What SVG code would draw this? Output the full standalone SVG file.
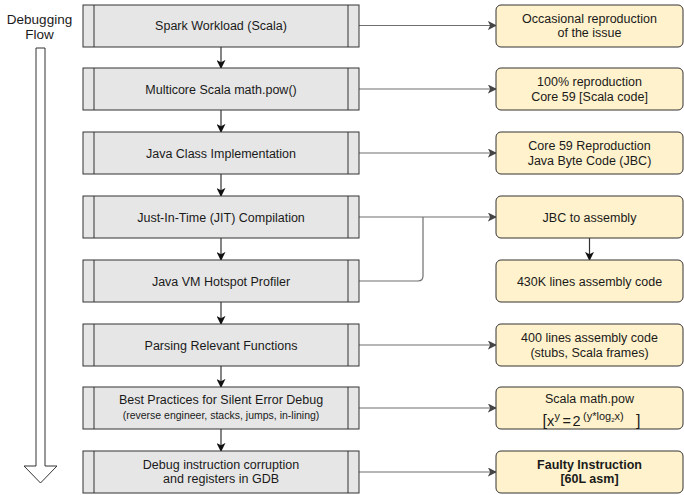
<svg xmlns="http://www.w3.org/2000/svg" width="684" height="495" viewBox="0 0 684 495">
<defs>
<style>
text{font-family:"Liberation Sans",Arial,sans-serif;font-size:12.5px;fill:#1a1a1a}
.t{text-anchor:middle}
.small{font-size:10.5px}
.lg{font-size:13.5px}
.b{font-weight:bold}
.lb{fill:#e6e6e6;stroke:#333;stroke-width:1}
.ln{stroke:#333;stroke-width:1;fill:none}
.rb{fill:#fff2cc;stroke:#333;stroke-width:1}
.h{stroke:#6e6e6e;stroke-width:1.2;fill:none}
.v{stroke:#333;stroke-width:1.2;fill:none}
</style>
<marker id="ag" viewBox="0 0 10 10" refX="9" refY="5" markerWidth="9" markerHeight="9" markerUnits="userSpaceOnUse" orient="auto"><path d="M0,0 L10,5 L0,10 L2.5,5 Z" fill="#444"/></marker>
<marker id="ab" viewBox="0 0 10 10" refX="9" refY="5" markerWidth="9" markerHeight="9" markerUnits="userSpaceOnUse" orient="auto"><path d="M0,0 L10,5 L0,10 L2.5,5 Z" fill="#111"/></marker>
</defs>

<g id="flow">
<text class="t lg" x="39.5" y="23.5">Debugging</text>
<text class="t lg" x="39.5" y="39">Flow</text>
<polygon points="36,48 45,48 45,466 57,466 40.5,483 24,466 36,466" fill="#fff" stroke="#333" stroke-width="1"/>
</g>

<g id="connectors">
<path class="h" d="M359,25.5 H496" marker-end="url(#ag)"/>
<path class="h" d="M359,89 H496" marker-end="url(#ag)"/>
<path class="h" d="M359,153 H496" marker-end="url(#ag)"/>
<path class="h" d="M359,217 H496" marker-end="url(#ag)"/>
<path class="h" d="M359,281 H418 Q423,281 423,276 V217"/>
<path class="h" d="M359,345 H496" marker-end="url(#ag)"/>
<path class="h" d="M359,408 H496" marker-end="url(#ag)"/>
<path class="h" d="M359,472 H496" marker-end="url(#ag)"/>
<path class="v" d="M221,47 V68" marker-end="url(#ab)"/>
<path class="v" d="M221,110 V132" marker-end="url(#ab)"/>
<path class="v" d="M221,174 V196" marker-end="url(#ab)"/>
<path class="v" d="M221,238 V260" marker-end="url(#ab)"/>
<path class="v" d="M221,302 V324" marker-end="url(#ab)"/>
<path class="v" d="M221,366 V387" marker-end="url(#ab)"/>
<path class="v" d="M221,429 V451" marker-end="url(#ab)"/>
<path class="v" d="M589.5,238 V260" marker-end="url(#ab)"/>
</g>

<g id="spark">
<rect class="lb" x="83" y="5" width="276" height="42"/>
<path class="ln" d="M94,5 V47 M348,5 V47"/>
<text class="t" x="221" y="30">Spark Workload (Scala)</text>
</g>
<g id="multicore">
<rect class="lb" x="83" y="68" width="276" height="42"/>
<path class="ln" d="M94,68 V110 M348,68 V110"/>
<text class="t" x="221" y="93.5">Multicore Scala math.pow()</text>
</g>
<g id="javaclass">
<rect class="lb" x="83" y="132" width="276" height="42"/>
<path class="ln" d="M94,132 V174 M348,132 V174"/>
<text class="t" x="221" y="157.5">Java Class Implementation</text>
</g>
<g id="jit">
<rect class="lb" x="83" y="196" width="276" height="42"/>
<path class="ln" d="M94,196 V238 M348,196 V238"/>
<text class="t" x="221" y="221.5">Just-In-Time (JIT) Compilation</text>
</g>
<g id="hotspot">
<rect class="lb" x="83" y="260" width="276" height="42"/>
<path class="ln" d="M94,260 V302 M348,260 V302"/>
<text class="t" x="221" y="285.5">Java VM Hotspot Profiler</text>
</g>
<g id="parsing">
<rect class="lb" x="83" y="324" width="276" height="42"/>
<path class="ln" d="M94,324 V366 M348,324 V366"/>
<text class="t" x="221" y="349.5">Parsing Relevant Functions</text>
</g>
<g id="bestpractices">
<rect class="lb" x="83" y="387" width="276" height="42"/>
<path class="ln" d="M94,387 V429 M348,387 V429"/>
<text class="t" x="221" y="404">Best Practices for Silent Error Debug</text>
<text class="t small" x="221" y="419">(reverse engineer, stacks, jumps, in-lining)</text>
</g>
<g id="gdb">
<rect class="lb" x="83" y="451" width="276" height="42"/>
<path class="ln" d="M94,451 V493 M348,451 V493"/>
<text class="t" x="221" y="468.5">Debug instruction corruption</text>
<text class="t" x="221" y="483">and registers in GDB</text>
</g>

<g id="occasional">
<rect class="rb" x="496" y="5" width="187" height="42" rx="5"/>
<text class="t" x="589.5" y="22.5">Occasional reproduction</text>
<text class="t" x="589.5" y="37">of the issue</text>
</g>
<g id="full">
<rect class="rb" x="496" y="68" width="187" height="42" rx="5"/>
<text class="t" x="589.5" y="86">100% reproduction</text>
<text class="t" x="589.5" y="100.5">Core 59 [Scala code]</text>
</g>
<g id="core59">
<rect class="rb" x="496" y="132" width="187" height="42" rx="5"/>
<text class="t" x="589.5" y="150">Core 59 Reproduction</text>
<text class="t" x="589.5" y="164.5">Java Byte Code (JBC)</text>
</g>
<g id="jbc">
<rect class="rb" x="496" y="196" width="187" height="42" rx="5"/>
<text class="t" x="589.5" y="221.5">JBC to assembly</text>
</g>
<g id="lines430k">
<rect class="rb" x="496" y="260" width="187" height="42" rx="5"/>
<text class="t" x="589.5" y="285.5">430K lines assembly code</text>
</g>
<g id="lines400">
<rect class="rb" x="496" y="324" width="187" height="42" rx="5"/>
<text class="t" x="589.5" y="342">400 lines assembly code</text>
<text class="t" x="589.5" y="356.5">(stubs, Scala frames)</text>
</g>
<g id="mathpow">
<rect class="rb" x="496" y="387" width="187" height="42" rx="5"/>
<text class="t" x="589.5" y="403">Scala math.pow</text>
<text x="542.5" y="426" style="font-size:16px">[<tspan style="font-size:14.5px">x</tspan><tspan x="554.5" y="419.5" style="font-size:11px">y</tspan><tspan x="562.5" y="426" style="font-size:14.5px">=</tspan><tspan x="572.5" y="426" style="font-size:14.5px">2</tspan><tspan x="583" y="419.5" style="font-size:11px">(y*log</tspan><tspan y="421.5" style="font-size:6px">2</tspan><tspan y="419.5" style="font-size:11px">x)</tspan><tspan x="636" y="426">]</tspan></text>
</g>
<g id="faulty">
<rect class="rb" x="496" y="451" width="187" height="42" rx="5"/>
<text class="t b" x="589.5" y="468.5">Faulty Instruction</text>
<text class="t b" x="589.5" y="483">[60L asm]</text>
</g>
</svg>
